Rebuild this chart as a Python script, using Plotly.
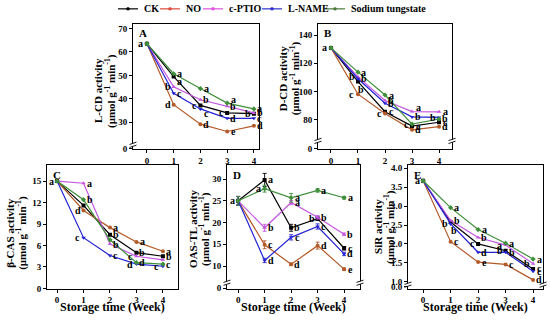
import plotly.graph_objects as go

W, H = 550, 320

weeks = [0, 1, 2, 3, 4]
series_names = ["CK", "NO", "c-PTIO", "L-NAME", "Sodium tungstate"]

# Panel A: L-CD activity
lcd_ck = [63.5, 49.5, 37.2, 34.0, 33.7]
lcd_no = [63.5, 37.5, 29.2, 26.1, 28.5]
lcd_cptio = [63.5, 45.1, 39.6, 36.8, 34.0]
lcd_lname = [63.5, 42.4, 35.7, 31.7, 31.7]
lcd_st = [63.5, 50.7, 44.4, 38.2, 35.7]

# Panel B: D-CD activity
dcd_ck = [131, 107.0, 85.5, 75.2, 78.0]
dcd_no = [131, 98.0, 84.2, 72.6, 74.8]
dcd_cptio = [131, 110.3, 93.5, 85.6, 85.4]
dcd_lname = [131, 109.0, 91.5, 81.8, 81.4]
dcd_st = [131, 113.7, 97.4, 76.7, 80.3]

# Panel C: beta-CAS activity
cas_ck = [15.0, 11.6, 7.5, 5.0, 4.5]
cas_no = [15.0, 10.9, 8.5, 6.5, 5.2]
cas_cptio = [15.0, 14.7, 6.2, 4.5, 4.0]
cas_lname = [15.0, 7.1, 4.6, 3.4, 3.1]
cas_st = [15.0, 12.4, 6.8, 3.6, 3.4]

# Panel D: OAS-TL activity
oas_ck = [25.0, 29.8, 18.8, 20.9, 14.1]
oas_no = [25.0, 14.9, 10.4, 14.7, 9.3]
oas_cptio = [25.0, 18.8, 24.6, 21.2, 17.3]
oas_lname = [25.0, 11.3, 16.6, 19.1, 12.8]
oas_st = [25.0, 27.8, 25.7, 27.4, 25.7]
oas_err_ck = [1.0, 1.5, 0.8, 0.4, 0.4]
oas_err_no = [1.0, 0.9, 0.3, 0.8, 0.3]
oas_err_cptio = [1.0, 0.8, 0.5, 0.4, 0.3]
oas_err_lname = [1.0, 0.5, 0.6, 0.6, 0.4]
oas_err_st = [1.0, 0.8, 1.0, 0.4, 0.3]

# Panel E: SiR activity
sir_ck = [3.67, 2.58, 2.00, 1.82, 1.34]
sir_no = [3.67, 2.06, 1.52, 1.46, 1.05]
sir_cptio = [3.67, 2.62, 2.17, 1.97, 1.48]
sir_lname = [3.67, 2.53, 1.78, 1.78, 1.28]
sir_st = [3.67, 2.96, 2.38, 2.02, 1.60]

# significance letters
let_A = {"CK": ["", "a", "c", "c", "b"], "NO": ["", "d", "d", "e", "d"],
         "c-PTIO": ["", "b", "b", "b", "b"], "L-NAME": ["", "c", "c", "d", "c"],
         "Sodium tungstate": ["a", "a", "a", "a", "a"]}
let_B = {"CK": ["", "b", "c", "c", "c"], "NO": ["", "c", "c", "d", "d"],
         "c-PTIO": ["", "b", "b", "a", "a"], "L-NAME": ["", "b", "b", "b", "b"],
         "Sodium tungstate": ["a", "a", "a", "c", "b"]}
let_C = {"CK": ["", "", "b", "b", "b"], "NO": ["", "d", "a", "a", "a"],
         "c-PTIO": ["", "a", "b", "c", ""], "L-NAME": ["", "c", "c", "d", "c"],
         "Sodium tungstate": ["a", "b", "", "d", "c"]}
let_D = {"CK": ["", "a", "b", "b", "c"], "NO": ["", "c", "d", "d", "e"],
         "c-PTIO": ["", "b", "a", "b", "b"], "L-NAME": ["", "d", "c", "c", "d"],
         "Sodium tungstate": ["a", "a", "a", "a", "a"]}
let_E = {"CK": ["", "b", "c", "b", "c"], "NO": ["", "c", "e", "c", "d"],
         "c-PTIO": ["", "b", "b", "a", "b"], "L-NAME": ["", "b", "d", "b", "c"],
         "Sodium tungstate": ["a", "a", "a", "a", "a"]}

y_ticks_A = [30, 40, 50, 60, 70]
y_ticks_B = [80, 100, 120, 140]
y_ticks_C = [0, 3, 6, 9, 12, 15]
y_ticks_D = [10, 15, 20, 25, 30]
y_ticks_E = [1.0, 1.5, 2.0, 2.5, 3.0, 3.5, 4.0]

# ---------------- styling / layout ----------------
COLORS = {"CK": "#000000", "NO": "#b45a28", "c-PTIO": "#c455e0",
          "L-NAME": "#2424d4", "Sodium tungstate": "#3f8f3a"}
LEG_COLORS = {"CK": "#000000", "NO": "#e04a3a", "c-PTIO": "#e050e0",
              "L-NAME": "#3030d0", "Sodium tungstate": "#4a7a3a"}
SYMBOLS = {"CK": "square", "NO": "circle", "c-PTIO": "triangle-up",
           "L-NAME": "triangle-down", "Sodium tungstate": "diamond"}
FONT = "Liberation Serif"


def px(x):
    return x / W


def py(y):
    return 1 - y / H


panels = {
    "A": dict(xpx=(133, 259), ypx=(22, 150), xr=[-0.52, 4.19], yr=[18.75, 72.1],
              zero=18.8, ticks=y_ticks_A,
              data={"CK": lcd_ck, "NO": lcd_no, "c-PTIO": lcd_cptio, "L-NAME": lcd_lname, "Sodium tungstate": lcd_st},
              letters=let_A, title1="L-CD activity", tx=(98, 110), ty=91, xtitle=False,
              brk=[(133, 146)]),
    "B": dict(xpx=(318, 452), ypx=(22, 150), xr=[-0.48, 4.48], yr=[59.1, 148.4],
              zero=59.3, ticks=y_ticks_B,
              data={"CK": dcd_ck, "NO": dcd_no, "c-PTIO": dcd_cptio, "L-NAME": dcd_lname, "Sodium tungstate": dcd_st},
              letters=let_B, title1="D-CD activity", tx=(283, 295), ty=78, xtitle=False,
              brk=[(318, 142), (452, 142)]),
    "C": dict(xpx=(47, 178), ypx=(167, 293), xr=[-0.38, 4.57], yr=[-0.02, 17.2],
              zero=None, ticks=y_ticks_C,
              data={"CK": cas_ck, "NO": cas_no, "c-PTIO": cas_cptio, "L-NAME": cas_lname, "Sodium tungstate": cas_st},
              letters=let_C, title1="β-CAS activity", tx=(10, 22), ty=236, xtitle=True,
              brk=[]),
    "D": dict(xpx=(227, 360), ypx=(167, 293), xr=[-0.42, 4.6], yr=[4.83, 33.15],
              zero=4.9, ticks=y_ticks_D,
              data={"CK": oas_ck, "NO": oas_no, "c-PTIO": oas_cptio, "L-NAME": oas_lname, "Sodium tungstate": oas_st},
              err={"CK": oas_err_ck, "NO": oas_err_no, "c-PTIO": oas_err_cptio, "L-NAME": oas_err_lname, "Sodium tungstate": oas_err_st},
              letters=let_D, title1="OAS-TL activity", tx=(193, 205), ty=232, xtitle=True,
              brk=[(227, 287), (360, 287)]),
    "E": dict(xpx=(408, 543), ypx=(167, 293), xr=[-0.55, 4.36], yr=[0.82, 4.078],
              zero=0.87, ticks=y_ticks_E,
              data={"CK": sir_ck, "NO": sir_no, "c-PTIO": sir_cptio, "L-NAME": sir_lname, "Sodium tungstate": sir_st},
              letters=let_E, title1="SiR activity", tx=(378, 390), ty=230, xtitle=True,
              brk=[(408, 289), (543, 289)]),
}

SIDE = {
    ("A", "CK", 1): "rb", ("A", "c-PTIO", 1): "l", ("A", "NO", 1): "l", ("A", "CK", 2): "l",
    ("A", "L-NAME", 2): "rb", ("A", "Sodium tungstate", 3): "ru", ("A", "CK", 3): "l", ("A", "CK", 4): "l",
    ("B", "c-PTIO", 1): "l", ("B", "CK", 1): "b", ("B", "NO", 1): "l", ("B", "NO", 2): "l",
    ("B", "Sodium tungstate", 3): "l", ("B", "c-PTIO", 3): "ru", ("B", "L-NAME", 4): "l",
    ("C", "NO", 1): "l", ("C", "L-NAME", 1): "l", ("C", "c-PTIO", 3): "l", ("C", "L-NAME", 3): "l",
    ("C", "L-NAME", 4): "l",
    ("D", "Sodium tungstate", 1): "l", ("D", "CK", 3): "l",
    ("E", "L-NAME", 1): "l", ("E", "CK", 1): "b", ("E", "CK", 2): "l", ("E", "c-PTIO", 3): "l",
    ("E", "CK", 3): "l", ("E", "c-PTIO", 4): "l",
}
SHIFT = {"r": (6, 0), "l": (-6, 0), "b": (3, -8), "rb": (6, -5), "ru": (6, 4)}

fig = go.Figure()
annotations = []
shapes = []
layout_axes = {}


def bold(size):
    return dict(family=FONT, size=size, color="black", weight="bold")


for i, (name, p) in enumerate(panels.items()):
    n = "" if i == 0 else str(i + 1)
    xa, ya = "x" + n, "y" + n
    for s in series_names:
        err = p.get("err", {}).get(s)
        fig.add_trace(go.Scatter(
            x=weeks, y=p["data"][s], xaxis=xa, yaxis=ya, mode="lines+markers",
            name=s, legendgroup=s, showlegend=False,
            line=dict(color=COLORS[s], width=1.2),
            marker=dict(color=COLORS[s], symbol=SYMBOLS[s], size=4),
            error_y=dict(type="data", array=err, color=COLORS[s], thickness=0.9, width=2) if err else None,
        ))
        for wk, lt in zip(weeks, p["letters"][s]):
            if not lt:
                continue
            side = SIDE.get((name, s, wk), "l" if wk == 0 else "r")
            dx, dy = SHIFT[side]
            annotations.append(dict(x=wk, y=p["data"][s][wk], xref=xa, yref=ya, text=lt,
                                    showarrow=False, xshift=dx, yshift=dy,
                                    xanchor="center", yanchor="middle", font=bold(10)))
    tv = list(p["ticks"])
    tt = [("%g" % v) if name != "E" else ("%.1f" % v) for v in tv]
    if p["zero"] is not None:
        tv = [p["zero"]] + tv
        tt = ["0.0" if name == "E" else "0"] + tt
    x0, x1 = p["xpx"]
    y0, y1 = p["ypx"]
    layout_axes["xaxis" + n] = dict(
        domain=[px(x0), px(x1)], range=p["xr"], anchor=ya, tickvals=weeks,
        ticktext=[str(w) for w in weeks], showgrid=False, zeroline=False, showline=True,
        linecolor="black", linewidth=1, mirror=True, ticks="outside", ticklen=3, tickcolor="black",
        tickfont=bold(9))
    layout_axes["yaxis" + n] = dict(
        domain=[py(y1), py(y0)], range=p["yr"], anchor=xa, tickvals=tv, ticktext=tt,
        showgrid=False, zeroline=False, showline=True, linecolor="black", linewidth=1,
        mirror=True, ticks="outside", ticklen=3, tickcolor="black",
        tickfont=bold(9))
    # panel letter
    annotations.append(dict(x=px(x0 + 4), y=py(y0 + 2), xref="paper", yref="paper", text=name,
                            showarrow=False, xanchor="left", yanchor="top", font=bold(11)))
    # y titles
    annotations.append(dict(x=px(p["tx"][0]), y=py(p["ty"]), xref="paper", yref="paper",
                            text=p["title1"], textangle=-90, showarrow=False,
                            xanchor="center", yanchor="middle", font=bold(11)))
    annotations.append(dict(x=px(p["tx"][1]), y=py(p["ty"]), xref="paper", yref="paper",
                            text="(μmol g<sup>-1</sup> min<sup>-1</sup>)", textangle=-90, showarrow=False,
                            xanchor="center", yanchor="middle", font=bold(11)))
    if p["xtitle"]:
        annotations.append(dict(x=px((x0 + x1) / 2), y=py(312), xref="paper", yref="paper",
                                text="Storage time (Week)", showarrow=False,
                                xanchor="center", yanchor="middle", font=bold(12)))
    for bx, by in p["brk"]:
        shapes.append(dict(type="rect", xref="paper", yref="paper", x0=px(bx - 3), x1=px(bx + 3),
                           y0=py(by + 1.5), y1=py(by - 1.5), fillcolor="white", line=dict(width=0)))
        for off in (-1.5, 1.5):
            shapes.append(dict(type="line", xref="paper", yref="paper",
                               x0=px(bx - 3.5), y0=py(by + off + 1.2), x1=px(bx + 3.5), y1=py(by + off - 1.2),
                               line=dict(color="black", width=0.9)))

# custom compact legend at the top
LEG_X = {"CK": 118, "NO": 160, "c-PTIO": 203, "L-NAME": 262, "Sodium tungstate": 325}
LEG_Y = 7
for s in series_names:
    lx = LEG_X[s]
    shapes.append(dict(type="line", xref="paper", yref="paper", x0=px(lx), x1=px(lx + 20),
                       y0=py(LEG_Y), y1=py(LEG_Y), line=dict(color=LEG_COLORS[s], width=1.2)))
    shapes.append(dict(type="circle", xref="paper", yref="paper", x0=px(lx + 8.5), x1=px(lx + 11.5),
                       y0=py(LEG_Y + 1.5), y1=py(LEG_Y - 1.5), fillcolor=LEG_COLORS[s],
                       line=dict(color=LEG_COLORS[s], width=0.5)))
    annotations.append(dict(x=px(lx + 24), y=py(LEG_Y), xref="paper", yref="paper", text=s,
                            showarrow=False, xanchor="left", yanchor="middle", font=bold(10)))

fig.update_layout(
    width=W, height=H, margin=dict(l=0, r=0, t=0, b=0),
    paper_bgcolor="white", plot_bgcolor="white", showlegend=False,
    annotations=annotations, shapes=shapes,
    **layout_axes,
)

fig.write_html("out.html", config={"displayModeBar": False},
               post_script="document.body.style.margin='0';document.body.style.overflow='hidden';")
